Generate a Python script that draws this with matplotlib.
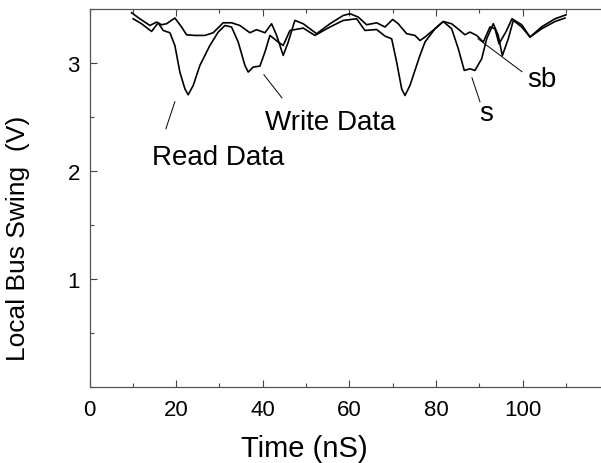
import matplotlib
matplotlib.use("Agg")
import matplotlib.pyplot as plt
from matplotlib.ticker import MultipleLocator

plt.rcParams['font.family'] = ['Liberation Sans', 'DejaVu Sans']

# trace "sb" (the upper, flatter line)
sb_t = [9.70, 11.62, 13.93, 15.47, 16.63, 17.78, 19.70, 21.25, 22.40, 24.32,
        26.63, 28.55, 30.85, 32.79, 34.71, 37.02, 38.57, 40.49, 42.03, 43.19,
        44.71, 45.87, 47.40, 49.33, 52.42, 55.50, 58.57, 60.12, 62.03, 63.97,
        66.28, 68.20, 69.98, 71.27, 73.21, 75.13, 76.28, 77.44, 79.75, 81.66,
        83.60, 85.52, 86.67, 87.83, 89.38, 90.90, 92.45, 93.60, 94.53, 96.14,
        97.53, 99.77, 101.69, 104.39, 107.46, 110.0]
sb_v = [3.463, 3.407, 3.345, 3.377, 3.352, 3.361, 3.414, 3.331, 3.259, 3.253,
        3.253, 3.278, 3.370, 3.370, 3.345, 3.278, 3.306, 3.278, 3.361, 3.253,
        3.068, 3.192, 3.392, 3.361, 3.269, 3.361, 3.438, 3.454, 3.423, 3.352,
        3.370, 3.331, 3.401, 3.361, 3.269, 3.253, 3.206, 3.238, 3.315, 3.382,
        3.361, 3.299, 3.259, 3.284, 3.253, 3.192, 3.331, 3.315, 3.176, 3.287,
        3.407, 3.352, 3.238, 3.333, 3.407, 3.444]

# trace "s" (the line with the deep read / write dips)
s_t = [10.07, 12.01, 14.32, 15.84, 17.00, 18.55, 19.70, 20.85, 22.01, 22.77,
       23.93, 25.47, 27.78, 29.70, 31.25, 32.79, 34.32, 35.87, 36.63, 37.78,
       39.33, 40.49, 41.64, 43.56, 44.71, 46.26, 49.33, 52.03, 55.50, 58.57,
       61.66, 63.58, 66.28, 68.20, 69.75, 70.90, 72.06, 72.82, 73.97, 76.28,
       77.44, 79.75, 81.66, 83.60, 85.13, 86.51, 87.83, 88.98, 90.53, 91.69,
       93.21, 94.36, 95.29, 96.67, 97.83, 99.77, 101.69, 104.39, 107.46, 109.77]
s_v = [3.407, 3.361, 3.290, 3.370, 3.299, 3.278, 3.160, 2.914, 2.759, 2.704,
       2.790, 2.975, 3.160, 3.284, 3.345, 3.331, 3.192, 2.975, 2.914, 2.960,
       2.969, 3.099, 3.253, 3.192, 3.160, 3.299, 3.321, 3.253, 3.331, 3.392,
       3.407, 3.299, 3.308, 3.247, 3.222, 3.006, 2.759, 2.697, 2.790, 3.068,
       3.192, 3.315, 3.382, 3.315, 3.130, 2.929, 2.944, 2.929, 3.037, 3.222,
       3.361, 3.253, 3.065, 3.222, 3.392, 3.331, 3.238, 3.315, 3.382, 3.414]

# callouts: label, text position (left, baseline), leader line start / end
callouts = [
    ("Read Data", (14.4, 2.065), (19.70, 2.639), (17.62, 2.389)),
    ("Write Data", (40.5, 2.389), (40.25, 2.889), (44.41, 2.676)),
    ("s", (89.9, 2.472), (88.29, 2.861), (90.14, 2.639)),
    ("sb", (101.0, 2.787), (89.68, 3.222), (99.84, 2.917)),
]

fig = plt.figure(figsize=(6.01, 4.64), dpi=100)
ax = fig.add_axes([0.149, 0.164, 0.849, 0.815])

ax.plot(sb_t, sb_v, color='black', lw=1.2)
ax.plot(s_t, s_v, color='black', lw=1.2)

for label, (tx, ty), (x0, y0), (x1, y1) in callouts:
    ax.plot([x0, x1], [y0, y1], color='black', lw=0.7)
    ax.text(tx, ty, label, fontsize=20, ha='left', va='baseline')

ax.set_xlim(0, 117.8)
ax.set_ylim(0, 3.5)
ax.xaxis.set_major_locator(MultipleLocator(20))
ax.xaxis.set_minor_locator(MultipleLocator(10))
ax.yaxis.set_major_locator(MultipleLocator(1))
ax.yaxis.set_minor_locator(MultipleLocator(0.5))
ax.set_yticks([1, 2, 3])
ax.tick_params(which='both', direction='in', top=True, right=False,
               labelsize=16, width=0.8, color='#444444')
ax.tick_params(which='major', length=5)
ax.tick_params(which='minor', length=3)
ax.tick_params(axis='x', pad=9)
ax.tick_params(axis='y', pad=7)

ax.spines['right'].set_visible(False)
for side in ['left', 'bottom', 'top']:
    ax.spines[side].set_color('#555555')
    ax.spines[side].set_linewidth(0.9)

fig.text(304 / 601, 1 - 449 / 464, "Time (nS)", fontsize=21,
         ha='center', va='center')
fig.text(18 / 601, 1 - 238 / 464, "Local Bus Swing  (V)", fontsize=19,
         ha='center', va='center', rotation=90)

fig.savefig("out.png", dpi=100)
